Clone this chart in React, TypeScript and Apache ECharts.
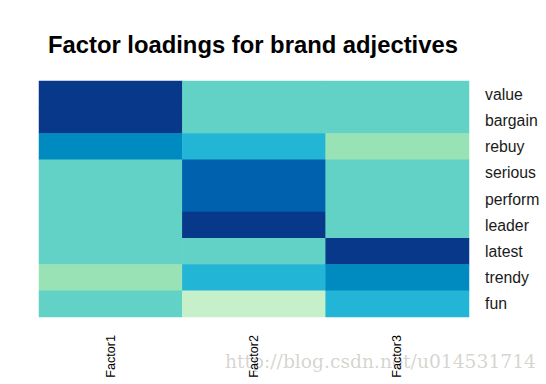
import React, { useEffect, useRef } from "react";
import * as echarts from "echarts";

const factors = ["Factor1", "Factor2", "Factor3"];
const adjectives = ["value", "bargain", "rebuy", "serious", "perform", "leader", "latest", "trendy", "fun"];
// loadings per adjective: [Factor1, Factor2, Factor3]
const factor1 = [0.87, 0.89, 0.52, 0.02, 0.05, 0.08, 0.03, -0.18, 0.01];
const factor2 = [0.05, 0.03, 0.31, 0.71, 0.68, 0.84, 0.06, 0.28, -0.38];
const factor3 = [0.04, 0.06, -0.21, 0.02, 0.09, 0.05, 0.88, 0.55, 0.33];

const pieces = [
  { min: -1, max: -0.3, color: "#C5F0CA" },
  { min: -0.3, max: -0.1, color: "#99E2B5" },
  { min: -0.1, max: 0.2, color: "#62D1C6" },
  { min: 0.2, max: 0.4, color: "#22B5D6" },
  { min: 0.4, max: 0.6, color: "#008BC0" },
  { min: 0.6, max: 0.8, color: "#0062AE" },
  { min: 0.8, max: 1.2, color: "#08388A" },
];

export default function App() {
  const ref = useRef<HTMLDivElement>(null);
  useEffect(() => {
    const chart = echarts.init(ref.current!, null, { renderer: "svg" });
    const cols = [factor1, factor2, factor3];
    const data: number[][] = [];
    cols.forEach((col, x) => col.forEach((v, y) => data.push([x, y, v])));
    chart.setOption({
      animation: false,
      backgroundColor: "#ffffff",
      title: {
        text: "Factor loadings for brand adjectives",
        left: 43,
        top: 27,
        textStyle: { fontFamily: "Liberation Sans", fontWeight: "bold", fontSize: 23.8, color: "#000" },
      },
      grid: { left: 39, right: 77, top: 81, bottom: 67 },
      xAxis: {
        type: "category",
        data: factors,
        axisLine: { show: false },
        axisTick: { show: false },
        splitLine: { show: false },
        axisLabel: { rotate: 90, margin: 18, fontFamily: "Liberation Sans", fontSize: 12.6, color: "#000" },
      },
      yAxis: {
        type: "category",
        data: adjectives,
        inverse: true,
        position: "right",
        axisLine: { show: false },
        axisTick: { show: false },
        splitLine: { show: false },
        axisLabel: { margin: 16, fontFamily: "Liberation Sans", fontSize: 15.8, color: "#1a1a1a" },
      },
      visualMap: { type: "piecewise", show: false, dimension: 2, pieces },
      series: [
        {
          type: "heatmap",
          data,
          itemStyle: { borderWidth: 0 },
          emphasis: { disabled: true },
        },
      ],
      graphic: [
        {
          type: "text",
          left: 225,
          top: 352,
          silent: true,
          style: {
            text: "http://blog.csdn.net/u014531714",
            fontFamily: "DejaVu Serif",
            fontSize: 18.7,
            fill: "rgba(160,160,150,0.45)",
          },
        },
      ],
    });
    return () => chart.dispose();
  }, []);
  return <div ref={ref} style={{ width: 546, height: 384, position: "absolute", left: 0, top: 0 }} />;
}
